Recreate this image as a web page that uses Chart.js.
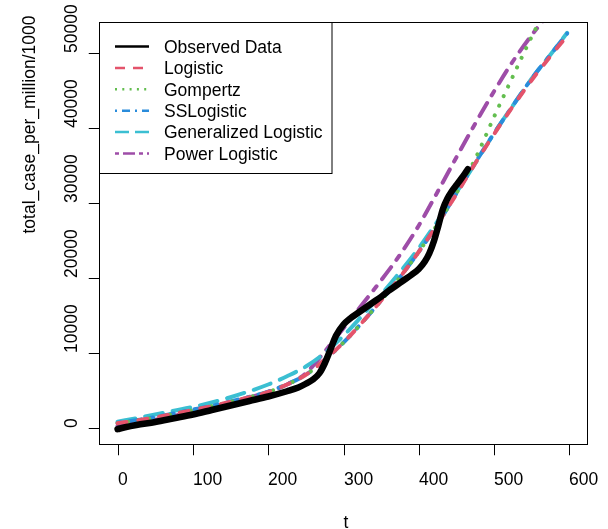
<!DOCTYPE html>
<html><head><meta charset="utf-8">
<script src="https://cdn.jsdelivr.net/npm/chart.js@4/dist/chart.umd.min.js"></script>
<style>html,body{margin:0;padding:0;background:#fff;}canvas{display:block;}</style>
</head><body>
<canvas id="c" width="608" height="529"></canvas>
<script>
// ---- data ----
const xTicks = [0, 100, 200, 300, 400, 500, 600];
const yTicks = [0, 10000, 20000, 30000, 40000, 50000];

const obsT = [0,10,25,50,75,100,125,150,175,200,225,240,250,260,268,275,282,290,300,310,320,330,340,350,360,370,380,390,400,408,414,420,426,432,438,444,450,456,461,465];
const obsV = [-150,100,400,800,1300,1800,2400,3000,3600,4200,4900,5400,5900,6500,7300,8600,10300,12300,13800,14700,15400,16100,16800,17500,18300,19000,19700,20400,21200,22200,23300,24900,27000,29200,30600,31600,32400,33200,33900,34500];

const modelT = [0,25,50,75,100,125,150,175,200,225,250,275,300,325,350,375,400,425,450,475,500,525,550,575,597];
const logisticV    = [650,1000,1400,1900,2400,2900,3500,4100,4800,5800,7100,9100,11400,14100,17000,20100,23500,27200,31200,35300,39200,42900,46400,49600,52300];
const gompertzV    = [650,1000,1400,1900,2400,2900,3500,4100,4800,5800,7100,9100,11400,14100,17000,20100,23500,27200,31300,35900,41500,46900,52200,57000,61000];
const ssLogisticV  = [700,1050,1450,1950,2450,2950,3550,4150,4850,5850,7100,9100,11400,14100,17000,20100,23500,27200,31300,35400,39300,43000,46600,49800,52600];
const genLogisticV = [850,1300,1800,2300,2800,3400,4100,4900,5800,6900,8200,10000,12300,15000,17800,20800,24000,27600,31400,35300,39300,43000,46600,49800,52700];
const powerLogisticV = [300,700,1100,1600,2200,2800,3400,4100,4800,5800,7300,10200,13300,16500,19700,23100,27000,31500,36100,40600,44900,48900,52400,55500,58000];

const seriesNames = ["Observed Data","Logistic","Gompertz","SSLogistic","Generalized Logistic","Power Logistic"];

// ---- build ----
const pts = (xs, ys) => xs.map((x, i) => ({x: x, y: ys[i]}));
const FONT = '17.5px "Liberation Sans", Arial, Helvetica, sans-serif';

const styles = [
  {color:'#000000', width:6.5, dash:[], cap:'round', lw:2.5, ldash:[]},
  {color:'#E4536B', width:4, dash:[9,12], cap:'round', lw:2.5, ldash:[10,8]},
  {color:'#63BE4F', width:4, dash:[0.1,10.5], cap:'round', lw:2.5, ldash:[2,5.3]},
  {color:'#2A8CDB', width:4, dash:[3,9,12,9], cap:'round', lw:2.5, ldash:[2,5,8,5]},
  {color:'#3BBFD2', width:4, dash:[18,10], cap:'round', lw:2.5, ldash:[14,6]},
  {color:'#9E4DA8', width:4, dash:[5,9,15,9], cap:'round', lw:2.5, ldash:[4,4,12,4]}
];
const seriesData = [
  pts(obsT, obsV),
  pts(modelT, logisticV),
  pts(modelT, gompertzV),
  pts(modelT, ssLogisticV),
  pts(modelT, genLogisticV),
  pts(modelT, powerLogisticV)
];

const datasets = seriesData.map((d, i) => ({
  label: seriesNames[i],
  data: d,
  borderColor: styles[i].color,
  borderWidth: styles[i].width,
  borderDash: styles[i].dash,
  borderCapStyle: styles[i].cap,
  borderJoinStyle: 'round',
  pointRadius: 0,
  fill: false,
  cubicInterpolationMode: 'monotone',
  clip: 0
}));

const rPlot = {
  id: 'rPlot',
  afterDraw(chart) {
    const ctx = chart.ctx, a = chart.chartArea;
    const xs = chart.scales.x, ys = chart.scales.y;
    ctx.save();
    ctx.strokeStyle = '#000'; ctx.lineWidth = 1; ctx.setLineDash([]);
    ctx.strokeRect(a.left, a.top, a.right - a.left, a.bottom - a.top);
    ctx.fillStyle = '#000'; ctx.font = FONT;
    const tl = 10.75;
    // x axis
    ctx.textAlign = 'left'; ctx.textBaseline = 'alphabetic';
    xTicks.forEach(v => {
      const px = Math.round(xs.getPixelForValue(v)) + 0.5;
      ctx.beginPath(); ctx.moveTo(px, a.bottom); ctx.lineTo(px, a.bottom + tl); ctx.stroke();
      ctx.fillText(String(v), px - 0.5, 485);
    });
    // y axis
    yTicks.forEach(v => {
      const py = Math.round(ys.getPixelForValue(v)) + 0.5;
      ctx.beginPath(); ctx.moveTo(a.left - tl, py); ctx.lineTo(a.left, py); ctx.stroke();
      ctx.save(); ctx.translate(77, py - 0.5); ctx.rotate(-Math.PI / 2);
      ctx.fillText(String(v), 0, 0); ctx.restore();
    });
    // titles
    const cx = (a.left + a.right) / 2, cy = (a.top + a.bottom) / 2;
    ctx.fillText('t', cx, 528);
    ctx.save(); ctx.translate(35, cy); ctx.rotate(-Math.PI / 2);
    ctx.fillText('total_case_per_million/1000', 0, 0); ctx.restore();
    // legend
    ctx.strokeRect(a.left, a.top, 332 - a.left, 173.5 - a.top);
    chart.data.datasets.forEach((ds, i) => {
      const y = 46.5 + 21.4 * i;
      ctx.save();
      ctx.strokeStyle = styles[i].color; ctx.lineWidth = styles[i].lw;
      ctx.setLineDash(styles[i].ldash); ctx.lineCap = 'butt';
      ctx.beginPath(); ctx.moveTo(115, y); ctx.lineTo(149, y); ctx.stroke();
      ctx.restore();
      ctx.fillText(ds.label, 164, y + 6.3);
    });
    ctx.restore();
  }
};

new Chart(document.getElementById('c'), {
  type: 'line',
  data: { datasets: datasets },
  options: {
    responsive: false,
    animation: false,
    devicePixelRatio: 1,
    layout: { padding: { left: 99.5, right: 20.5, top: 22.5, bottom: 84.5 } },
    scales: {
      x: { type: 'linear', min: -24, max: 624, display: false },
      y: { type: 'linear', min: -2200, max: 54067, display: false }
    },
    plugins: { legend: { display: false }, tooltip: { enabled: false } },
    elements: { point: { radius: 0 } }
  },
  plugins: [rPlot]
});
</script>
</body></html>
